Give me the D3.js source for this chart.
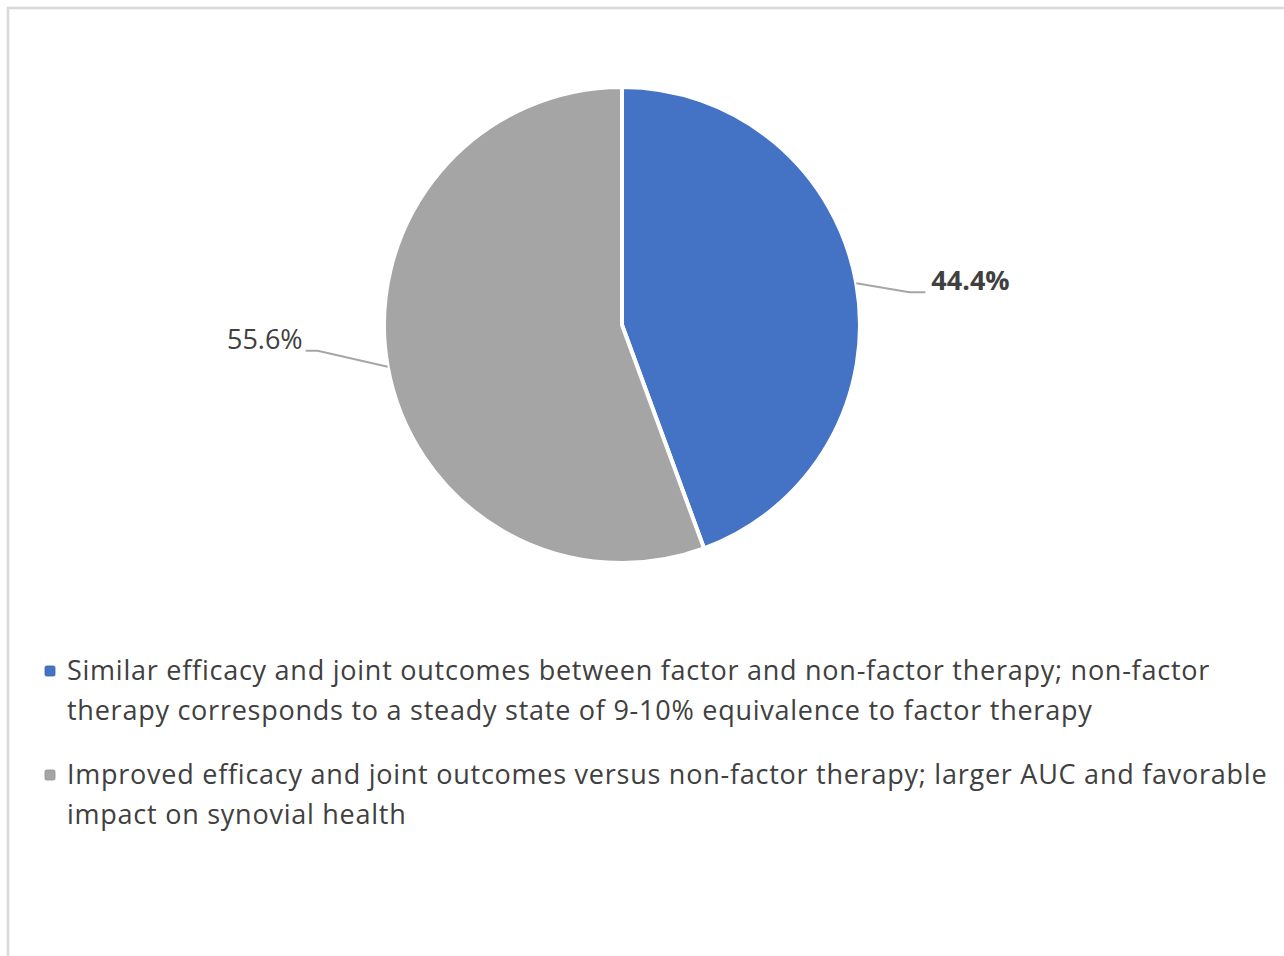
<!DOCTYPE html>
<html>
<head>
<meta charset="utf-8">
<script src="https://cdn.jsdelivr.net/npm/d3@7"></script>
<style>
    body { margin: 0; background: #fff; }
    svg { display: block; font-family: "Open Sans", sans-serif; }
    .pctLabel { font-size: 27px; fill: #404040; }
    .legendText { font-size: 27px; fill: #404040; letter-spacing: 0.75px; }
</style>
</head>
<body>
<div id="chart"></div>
<script>
// data
const categories = ["similar", "improved"];
const values = [44.4, 55.6];
const labels = ["44.4%", "55.6%"];
const legendLines = [
    ["Similar efficacy and joint outcomes between factor and non-factor therapy; non-factor",
     "therapy corresponds to a steady state of 9-10% equivalence to factor therapy"],
    ["Improved efficacy and joint outcomes versus non-factor therapy; larger AUC and favorable",
     "impact on synovial health"]
];

const width = 1284, height = 956;
const cx = 622, cy = 325, radius = 238;

const colour = d3.scaleOrdinal()
    .domain(categories)
    .range(["#4472C4", "#A5A5A5"]);

const svg = d3.select("#chart")
    .append("svg")
    .attr("width", width)
    .attr("height", height);

// frame (only top and left edges visible in original)
svg.append("rect")
    .attr("x", 8)
    .attr("y", 8)
    .attr("width", width + 20)
    .attr("height", height + 20)
    .attr("fill", "none")
    .attr("stroke", "#d9d9d9")
    .attr("stroke-width", 2.5);

const pieData = d3.pie()
    .sort(null)
    .value(d => d.value)(categories.map((c, i) => ({ key: c, value: values[i], label: labels[i] })));

const arc = d3.arc().innerRadius(0).outerRadius(radius);
const edgeArc = d3.arc().innerRadius(radius).outerRadius(radius);

const g = svg.append("g")
    .attr("transform", "translate(" + cx + "," + cy + ")");

g.selectAll("path.slice")
    .data(pieData)
    .enter().append("path")
    .attr("class", "slice")
    .attr("d", arc)
    .attr("fill", d => colour(d.data.key))
    .attr("stroke", "#fff")
    .attr("stroke-width", 4)
    .attr("stroke-linejoin", "round");

// leader lines + labels
const leader = [
    { dx: 53, dy: 9, run: 16, weight: 700 },   // right label
    { dx: -70, dy: -16, run: -12, weight: 400 } // left label
];

pieData.forEach((d, i) => {
    const p = edgeArc.centroid(d);
    const o = leader[i];
    const elbow = [p[0] + o.dx, p[1] + o.dy];
    const end = [elbow[0] + o.run, elbow[1]];
    g.append("polyline")
        .attr("points", [p, elbow, end].map(q => q.join(",")).join(" "))
        .attr("fill", "none")
        .attr("stroke", "#a6a6a6")
        .attr("stroke-width", 2);
    g.append("text")
        .attr("class", "pctLabel")
        .attr("x", end[0] + (o.run > 0 ? 6 : -3))
        .attr("y", end[1] - 2)
        .attr("text-anchor", o.run > 0 ? "start" : "end")
        .attr("font-weight", o.weight)
        .text(d.data.label);
});

// legend
const legend = svg.append("g")
    .attr("transform", "translate(45,666)");

const items = legend.selectAll(".legend")
    .data(categories)
    .enter().append("g")
    .attr("class", "legend")
    .attr("transform", (d, i) => "translate(0," + i * 104 + ")");

items.append("rect")
    .attr("width", 10)
    .attr("height", 10)
    .attr("rx", 1.5)
    .attr("fill", d => colour(d))
    .attr("stroke", d => d3.color(colour(d)).darker(0.4))
    .attr("stroke-width", 0.8);

items.each(function(d, i) {
    d3.select(this).selectAll("text")
        .data(legendLines[i])
        .enter().append("text")
        .attr("class", "legendText")
        .attr("x", 22)
        .attr("y", (t, j) => 14 + j * 40)
        .text(t => t);
});
</script>
</body>
</html>
